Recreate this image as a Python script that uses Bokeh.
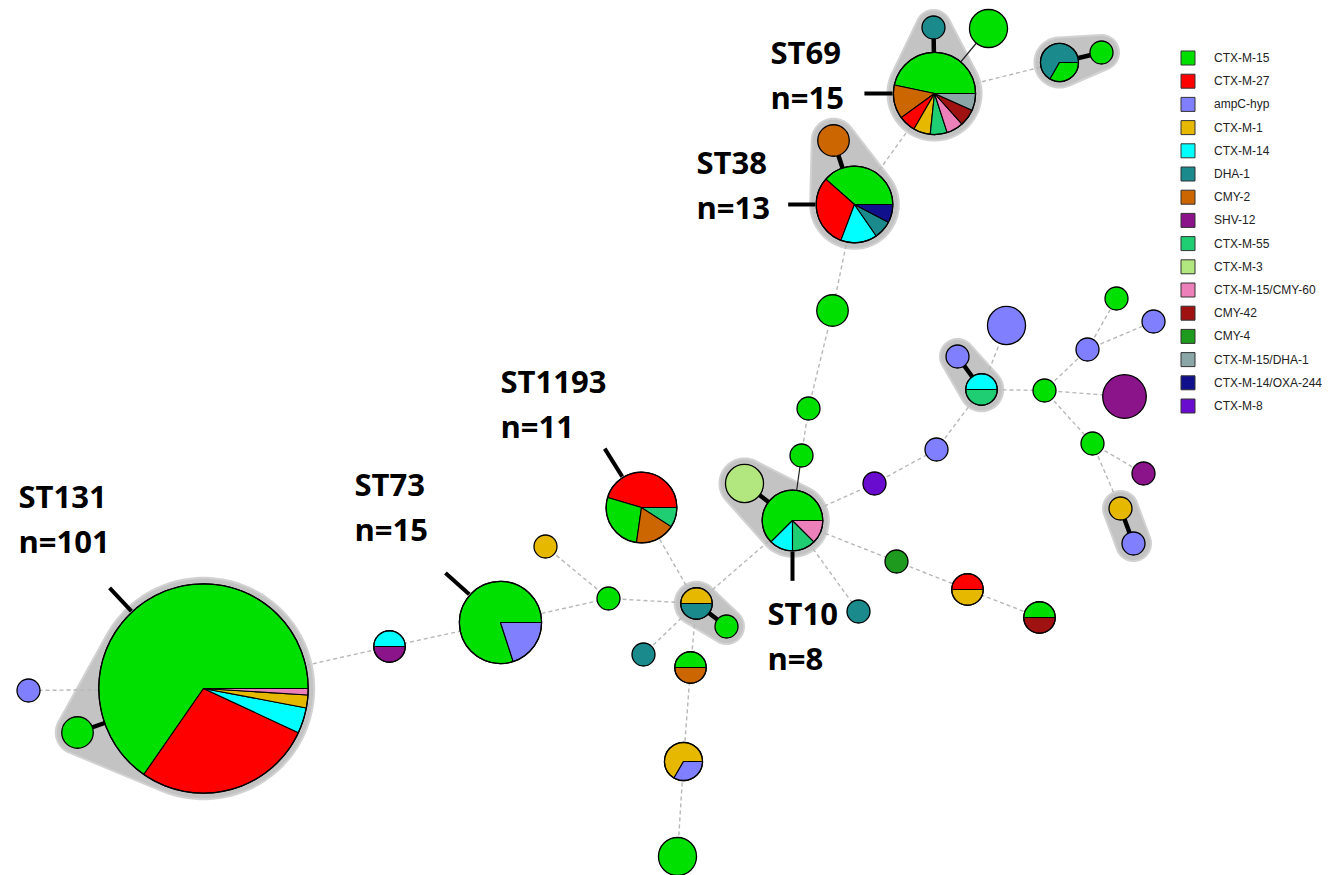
import math
from bokeh.plotting import figure
from bokeh.models import Range1d
from bokeh.core.properties import value
from bokeh.embed import file_html
from bokeh.resources import INLINE

# ---------------- data ----------------
alleles = ["CTX-M-15", "CTX-M-27", "ampC-hyp", "CTX-M-1", "CTX-M-14", "DHA-1", "CMY-2",
           "SHV-12", "CTX-M-55", "CTX-M-3", "CTX-M-15/CMY-60", "CMY-42", "CMY-4",
           "CTX-M-15/DHA-1", "CTX-M-14/OXA-244", "CTX-M-8"]
allele_colors = ["#00e000", "#ff0000", "#8080ff", "#e6b800", "#00ffff", "#1a8a8c", "#cc6600",
                 "#8b148b", "#1fce72", "#b2e67e", "#ec80ba", "#a01212", "#1e9a1e",
                 "#8aa6a6", "#10108c", "#6a0cd0"]

# graph layout (node positions of the minimum spanning tree)
node_x = [203, 77, 28, 389, 500, 545, 608, 696, 726, 643, 690, 683, 677, 641, 792, 744,
          801, 808, 832, 854, 833, 934, 933, 988, 1059, 1101, 874, 858, 896, 967, 1039,
          936, 981, 957, 1006, 1044, 1087, 1116, 1153, 1124, 1092, 1143, 1120, 1133]
node_y = [688, 732, 690, 646, 622, 546, 598, 603, 626, 654, 667, 761, 856, 507, 520, 483,
          455, 408, 310, 204, 140, 93, 27, 28, 62, 52, 483, 611, 561, 589, 617,
          449, 389, 356, 325, 390, 349, 298, 321, 396, 443, 473, 508, 543]

# allele profile of each node, in drawing order (counter-clockwise from 3 o'clock)
node_profile = [
    [("CTX-M-15", 66), ("CTX-M-27", 28), ("CTX-M-14", 4), ("CTX-M-1", 2), ("CTX-M-15/CMY-60", 1)],  # ST131
    [("CTX-M-15", 2)],
    [("ampC-hyp", 1)],
    [("CTX-M-14", 1), ("SHV-12", 1)],
    [("CTX-M-15", 12), ("ampC-hyp", 3)],  # ST73
    [("CTX-M-1", 1)],
    [("CTX-M-15", 1)],
    [("CTX-M-1", 1), ("DHA-1", 1)],
    [("CTX-M-15", 1)],
    [("DHA-1", 1)],
    [("CTX-M-15", 1), ("CMY-2", 1)],
    [("CTX-M-1", 2), ("ampC-hyp", 1)],
    [("CTX-M-15", 3)],
    [("CTX-M-27", 5), ("CTX-M-15", 3), ("CMY-2", 2), ("CTX-M-55", 1)],  # ST1193
    [("CTX-M-15", 5), ("CTX-M-14", 1), ("CTX-M-55", 1), ("CTX-M-15/CMY-60", 1)],  # ST10
    [("CTX-M-3", 3)],
    [("CTX-M-15", 1)],
    [("CTX-M-15", 1)],
    [("CTX-M-15", 2)],
    [("CTX-M-15", 5), ("CTX-M-27", 4), ("CTX-M-14", 2), ("DHA-1", 1), ("CTX-M-14/OXA-244", 1)],  # ST38
    [("CMY-2", 2)],
    [("CTX-M-15", 7), ("CMY-2", 2), ("CTX-M-27", 1), ("CTX-M-1", 1), ("CTX-M-55", 1),
     ("CTX-M-15/CMY-60", 1), ("CMY-42", 1), ("CTX-M-15/DHA-1", 1)],  # ST69
    [("DHA-1", 1)],
    [("CTX-M-15", 3)],
    [("DHA-1", 2), ("CTX-M-15", 1)],
    [("CTX-M-15", 1)],
    [("CTX-M-8", 1)],
    [("DHA-1", 1)],
    [("CMY-4", 1)],
    [("CTX-M-27", 1), ("CTX-M-1", 1)],
    [("CTX-M-15", 1), ("CMY-42", 1)],
    [("ampC-hyp", 1)],
    [("CTX-M-14", 1), ("CTX-M-55", 1)],
    [("ampC-hyp", 1)],
    [("ampC-hyp", 3)],
    [("CTX-M-15", 1)],
    [("ampC-hyp", 1)],
    [("CTX-M-15", 1)],
    [("ampC-hyp", 1)],
    [("SHV-12", 4)],
    [("CTX-M-15", 1)],
    [("SHV-12", 1)],
    [("CTX-M-1", 1)],
    [("ampC-hyp", 1)],
]

edge_from = [0, 0, 0, 3, 4, 5, 6, 7, 7, 7, 7, 7, 10, 11, 14, 14, 16, 17, 18, 19, 19, 21, 21, 21,
             24, 14, 14, 14, 28, 29, 26, 31, 32, 32, 32, 35, 36, 36, 35, 35, 40, 40, 42]
edge_to = [1, 2, 3, 4, 6, 6, 7, 8, 13, 14, 9, 10, 11, 12, 15, 16, 17, 18, 19, 20, 21, 22, 23, 24,
           25, 26, 27, 28, 29, 30, 31, 32, 33, 34, 35, 36, 37, 38, 39, 40, 41, 42, 43]
edge_kind = ["thick", "dash", "dash", "dash", "dash", "dash", "dash", "thick", "dash", "dash",
             "dash", "dash", "dash", "dash", "thick", "thin", "dash", "dash", "dash", "thick",
             "dash", "thick", "thin", "dash", "thick", "dash", "dash", "dash", "dash", "dash",
             "dash", "dash", "thick", "dash", "dash", "dash", "dash", "dash", "dash", "dash",
             "dash", "dash", "thick"]

hull_groups = [[0, 1], [21, 22], [24, 25], [19, 20], [14, 15], [7, 8], [32, 33], [42, 43]]

label_node = [0, 4, 13, 14, 19, 21]
label_st = ["ST131", "ST73", "ST1193", "ST10", "ST38", "ST69"]
label_n = ["n=101", "n=15", "n=11", "n=8", "n=13", "n=15"]

# ---------------- layout helpers ----------------
color_of = dict(zip(alleles, allele_colors))


def node_radius(n):
    return 10.3 * math.sqrt(n) + 1.2


node_count = [sum(c for _, c in prof) for prof in node_profile]
node_r = [node_radius(n) for n in node_count]

p = figure(width=1329, height=875, x_range=Range1d(0, 1329), y_range=Range1d(875, 0),
           output_backend="svg", toolbar_location=None, min_border=0,
           x_axis_location=None, y_axis_location=None, outline_line_color=None)
p.grid.grid_line_color = None
p.background_fill_color = "white"
p.border_fill_color = "white"


# ---- hulls ----
def convex_hull(pts):
    pts = sorted(set(pts))
    if len(pts) <= 2:
        return pts

    def cross(o, a, b):
        return (a[0] - o[0]) * (b[1] - o[1]) - (a[1] - o[1]) * (b[0] - o[0])
    lower = []
    for q in pts:
        while len(lower) >= 2 and cross(lower[-2], lower[-1], q) <= 0:
            lower.pop()
        lower.append(q)
    upper = []
    for q in reversed(pts):
        while len(upper) >= 2 and cross(upper[-2], upper[-1], q) <= 0:
            upper.pop()
        upper.append(q)
    return lower[:-1] + upper[:-1]


hx, hy = [], []
pad = 6.0
for grp in hull_groups:
    pts = []
    for i in grp:
        for k in range(90):
            a = 2 * math.pi * k / 90
            pts.append((round(node_x[i] + (node_r[i] + pad) * math.cos(a), 2),
                        round(node_y[i] + (node_r[i] + pad) * math.sin(a), 2)))
    h = convex_hull(pts)
    hx.append([q[0] for q in h])
    hy.append([q[1] for q in h])
p.patches(hx, hy, fill_color="#c3c3c3", line_color="#d2d2d2", line_width=2)

# ---- edges ----
for kind, style in [("dash", dict(line_color="#b8b8b8", line_width=1.4, line_dash="4 3")),
                    ("thin", dict(line_color="#222222", line_width=1.2)),
                    ("thick", dict(line_color="black", line_width=4.5))]:
    idx = [k for k, e in enumerate(edge_kind) if e == kind]
    p.segment(x0=[node_x[edge_from[k]] for k in idx], y0=[node_y[edge_from[k]] for k in idx],
              x1=[node_x[edge_to[k]] for k in idx], y1=[node_y[edge_to[k]] for k in idx], **style)

# ---- nodes ----
single = [i for i, prof in enumerate(node_profile) if len(prof) == 1]
multi = [i for i, prof in enumerate(node_profile) if len(prof) > 1]

p.circle(x=[node_x[i] for i in single], y=[node_y[i] for i in single],
         radius=[node_r[i] for i in single],
         fill_color=[color_of[node_profile[i][0][0]] for i in single],
         line_color="black", line_width=1.3)

wx, wy, wr, ws, we, wc = [], [], [], [], [], []
for i in multi:
    tot = node_count[i]
    a = 0.0
    for allele, c in node_profile[i]:
        b = a + 2 * math.pi * c / tot
        wx.append(node_x[i]); wy.append(node_y[i]); wr.append(node_r[i])
        ws.append(a); we.append(b); wc.append(color_of[allele])
        a = b
p.wedge(x=wx, y=wy, radius=wr, start_angle=ws, end_angle=we, direction="anticlock",
        fill_color=wc, line_color="black", line_width=1.1)
p.circle(x=[node_x[i] for i in multi], y=[node_y[i] for i in multi],
         radius=[node_r[i] for i in multi], fill_color=None, line_color="black", line_width=1.3)

# ---- cluster labels ----
label_pos = [(18, 495), (354, 483), (500, 380), (767, 612), (696, 161), (770, 51)]
leader = [(133, 32), (138, 32), (122, 33), (270, 29), (180, 27), (180, 28)]  # angle (deg), length
lx0, ly0, lx1, ly1 = [], [], [], []
for k, ni in enumerate(label_node):
    ang, ln = leader[k]
    t = math.radians(ang)
    r0 = node_r[ni] + 1
    lx0.append(node_x[ni] + r0 * math.cos(t)); ly0.append(node_y[ni] - r0 * math.sin(t))
    lx1.append(node_x[ni] + (r0 + ln) * math.cos(t)); ly1.append(node_y[ni] - (r0 + ln) * math.sin(t))
p.segment(x0=lx0, y0=ly0, x1=lx1, y1=ly1, line_color="black", line_width=4)

tx = [q[0] for q in label_pos] * 2
ty = [q[1] for q in label_pos] + [q[1] + 45 for q in label_pos]
p.text(x=tx, y=ty, text=label_st + label_n, text_font=value("Open Sans"),
       text_font_style="bold", text_font_size="31px", text_baseline="alphabetic",
       text_align="left", text_color="black")

# ---- legend ----
leg_x, leg_y0, leg_dy = 1187.5, 57.5, 23.2
leg_ys = [leg_y0 + k * leg_dy for k in range(len(alleles))]
p.rect(x=[leg_x] * len(alleles), y=leg_ys, width=14, height=14, fill_color=allele_colors,
       line_color="#333333", line_width=1)
p.text(x=[leg_x + 26] * len(alleles), y=leg_ys, text=alleles, text_font=value("Liberation Sans"),
       text_font_size="12px", text_baseline="middle", text_align="left", text_color="#222222")

open("out.html", "w").write(file_html(p, INLINE))
